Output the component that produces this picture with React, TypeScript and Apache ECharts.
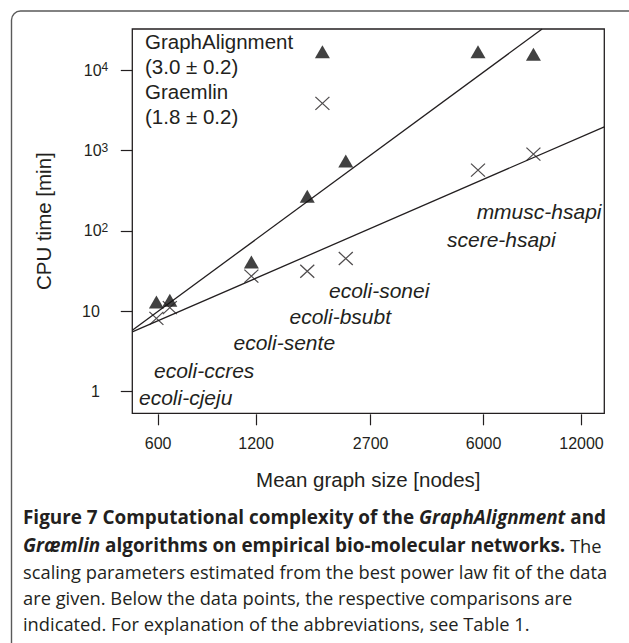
import React, { useEffect, useRef } from 'react';
import * as echarts from 'echarts';

// Data (log-log plot)
const graphSizes = [593, 652, 1161, 1724, 1919, 2264, 5770, 8540];
const graphAlignmentTimes = [13.0, 13.6, 40.9, 270, 17000, 738, 17000, 15800];
const graemlinTimes = [8.1, 11.0, 27.2, 31.3, 3870, 45.1, 570, 902];
const graphAlignmentFit = [[500, 5.76], [9080, 32650]];
const graemlinFit = [[500, 5.49], [14100, 1975]];
const xTickValues = [600, 1200, 2700, 6000, 12000];
const yTickValues = [1, 10, 100, 1000, 10000];
const legendLines = ['GraphAlignment', '(3.0 \u00b1 0.2)', 'Graemlin', '(1.8 \u00b1 0.2)'];
const comparisonLabels = ['ecoli-cjeju', 'ecoli-ccres', 'ecoli-sente', 'ecoli-bsubt', 'ecoli-sonei', 'scere-hsapi', 'mmusc-hsapi'];

const FONT = '"Liberation Sans", Arial, Helvetica, sans-serif';
const CAP_FONT = '"Open Sans", "Noto Sans", sans-serif';
const INK = '#231f20';

// layout (pixels) for annotation texts
const labelPos = [
  [139, 397.3, 'left'],
  [154, 370, 'left'],
  [233.5, 342.7, 'left'],
  [289.5, 316, 'left'],
  [329, 290, 'left'],
  [447, 239.3, 'left'],
  [601.5, 211.7, 'right'],
];
const legendY = [41.7, 66.7, 91.7, 116.2];

const captionLines = [
  '{b|Figure 7 Computational complexity of the }{bi|GraphAlignment}{b| and}',
  '{bi|Gr\u00e6mlin}{b| algorithms on empirical bio-molecular networks.}{r| The}',
  '{r|scaling parameters estimated from the best power law fit of the data}',
  '{r|are given. Below the data points, the respective comparisons are}',
  '{r|indicated. For explanation of the abbreviations, see Table 1.}',
];
const captionY = [517.3, 545, 571.2, 597.7, 623.5];

export default function App() {
  const ref = useRef<HTMLDivElement>(null);
  useEffect(() => {
    if (!ref.current) return;
    const chart = echarts.init(ref.current, undefined, { renderer: 'svg' });
    const boldSize = 18.9;
    const regSize = 18.3;
    const capRich = {
      b: { fontFamily: CAP_FONT, fontSize: boldSize, fontWeight: 'bold', fill: INK, color: INK },
      bi: { fontFamily: CAP_FONT, fontSize: boldSize, fontWeight: 'bold', fontStyle: 'italic', fill: INK, color: INK },
      r: { fontFamily: CAP_FONT, fontSize: regSize, fill: INK, color: INK },
    };
    const graphic: any[] = [
      {
        type: 'rect',
        shape: { x: 11.5, y: 11, width: 720, height: 720, r: 9 },
        style: { fill: 'none', stroke: '#5a5a5a', lineWidth: 1.4 },
        z: 0,
      },
    ];
    legendLines.forEach((t, i) => {
      graphic.push({
        type: 'text',
        x: 145,
        y: legendY[i],
        style: { text: t, fontFamily: FONT, fontSize: 20.5, fill: INK, align: 'left', verticalAlign: 'middle' },
        z: 10,
      });
    });
    comparisonLabels.forEach((t, i) => {
      const p = labelPos[i];
      graphic.push({
        type: 'text',
        x: p[0],
        y: p[1],
        style: { text: t, fontFamily: FONT, fontStyle: 'italic', fontSize: 21, fill: INK, align: p[2], verticalAlign: 'middle' },
        z: 10,
      });
    });
    captionLines.forEach((t, i) => {
      graphic.push({
        type: 'text',
        x: 23,
        y: captionY[i],
        style: { text: t, rich: capRich, fontFamily: CAP_FONT, fontSize: regSize, fill: INK, align: 'left', verticalAlign: 'middle' },
        z: 10,
      });
    });

    const option: any = {
      animation: false,
      backgroundColor: '#ffffff',
      textStyle: { fontFamily: FONT },
      grid: {
        left: 132.3,
        top: 29,
        width: 472,
        height: 384.3,
        show: true,
        borderColor: INK,
        borderWidth: 1.3,
        backgroundColor: 'transparent',
        containLabel: false,
        outerBoundsMode: 'none',
      },
      xAxis: {
        type: 'log',
        logBase: 10,
        min: 500,
        max: 14100,
        offset: 1,
        axisLine: { show: false },
        splitLine: { show: false },
        minorTick: { show: false },
        axisTick: { show: true, length: 11, customValues: xTickValues, lineStyle: { color: INK, width: 1.2 } },
        axisLabel: {
          customValues: xTickValues,
          margin: 21,
          fontSize: 16,
          color: INK,
          fontFamily: FONT,
          formatter: (v: number) => String(Math.round(v)),
        },
        name: 'Mean graph size [nodes]',
        nameLocation: 'middle',
        nameGap: 55,
        nameTextStyle: { fontSize: 20.5, color: INK, fontFamily: FONT },
      },
      yAxis: {
        type: 'log',
        logBase: 10,
        min: 0.532,
        max: 32650,
        axisLine: { show: false },
        splitLine: { show: false },
        axisTick: { show: true, length: 11.5, customValues: yTickValues, lineStyle: { color: INK, width: 1.2 } },
        axisLabel: {
          customValues: yTickValues,
          margin: 24,
          color: INK,
          fontFamily: FONT,
          fontSize: 16,
          formatter: (v: number) => {
            const e = Math.round(Math.log10(v));
            if (e === 0) return '{base|1}{pad| }';
            if (e === 1) return '{base|10}{pad| }';
            return '{base|10}{sup|' + e + '}';
          },
          rich: {
            base: { fontSize: 16, fontFamily: FONT, color: INK, lineHeight: 18 },
            sup: { fontSize: 12, fontFamily: FONT, color: INK, lineHeight: 12, verticalAlign: 'top' },
            pad: { fontSize: 12, width: 8.5 },
          },
        },
        name: 'CPU time [min]',
        nameLocation: 'middle',
        nameGap: 78,
        nameTextStyle: { fontSize: 20.5, color: INK, fontFamily: FONT },
      },
      series: [
        {
          name: 'GraphAlignment fit',
          type: 'line',
          data: graphAlignmentFit,
          showSymbol: false,
          symbol: 'none',
          clip: true,
          lineStyle: { color: INK, width: 1.3 },
          z: 3,
        },
        {
          name: 'Graemlin fit',
          type: 'line',
          data: graemlinFit,
          showSymbol: false,
          symbol: 'none',
          clip: true,
          lineStyle: { color: INK, width: 1.3 },
          z: 3,
        },
        {
          name: 'GraphAlignment',
          type: 'scatter',
          data: graphSizes.map((x, i) => [x, graphAlignmentTimes[i]]),
          symbol: 'triangle',
          symbolSize: [15, 13],
          itemStyle: { color: '#111111' },
          z: 4,
        },
        {
          name: 'Graemlin',
          type: 'scatter',
          data: graphSizes.map((x, i) => [x, graemlinTimes[i]]),
          symbol: 'path://M0,0L10,10M10,0L0,10',
          symbolSize: [14, 13],
          itemStyle: { color: 'rgba(0,0,0,0)', borderColor: INK, borderWidth: 1.2 },
          z: 4,
        },
      ],
      graphic,
    };
    chart.setOption(option);
    return () => chart.dispose();
  }, []);
  return (
    <div
      ref={ref}
      style={{ position: 'absolute', left: 0, top: 0, width: 629, height: 643, background: '#fff' }}
    />
  );
}
